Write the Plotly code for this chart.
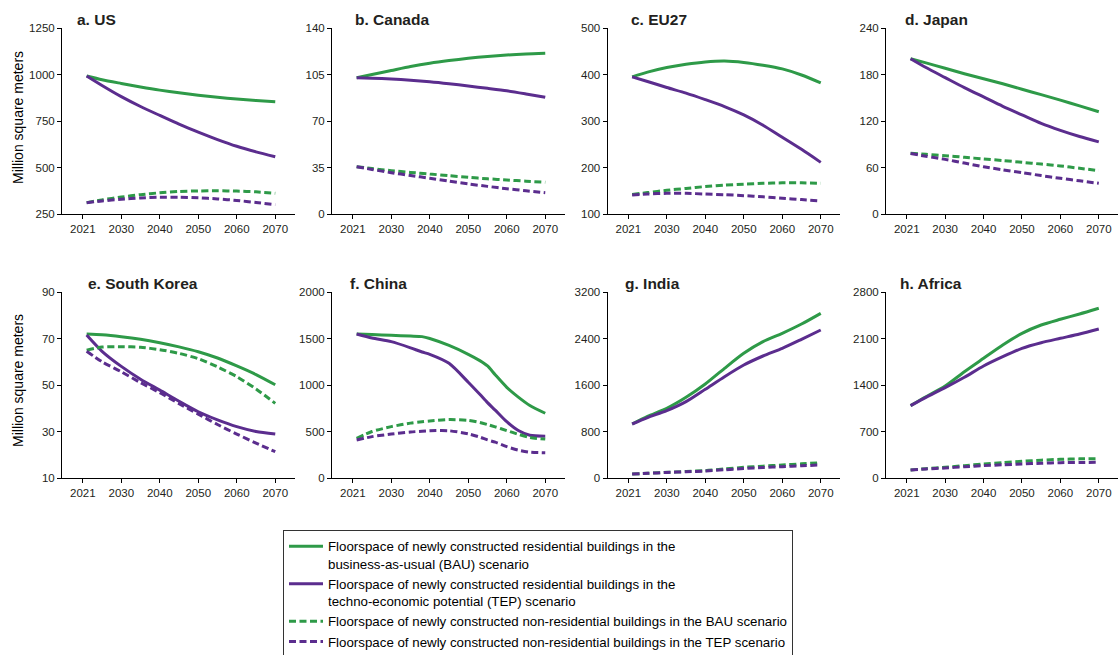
import plotly.graph_objects as go

# ---------------- data ----------------
years = [2021, 2025, 2030, 2035, 2040, 2045, 2050, 2055, 2060, 2065, 2070]

us_bau_res = [992, 972, 952, 933, 916, 902, 889, 878, 868, 860, 854]
us_tep_res = [992, 941, 881, 828, 780, 733, 690, 650, 614, 584, 558]
us_bau_non = [311, 326, 341, 354, 364, 371, 374, 375, 373, 369, 362]
us_tep_non = [311, 320, 329, 336, 340, 340, 337, 331, 323, 312, 300]

ca_bau_res = [102.5, 105, 108, 111, 113.5, 115.5, 117.2, 118.6, 119.7, 120.5, 121]
ca_tep_res = [102.5, 102.2, 101.6, 100.7, 99.6, 98.1, 96.3, 94.6, 92.8, 90.4, 87.8]
ca_bau_non = [35.6, 34.2, 32.6, 31.3, 30.1, 28.8, 27.6, 26.5, 25.6, 24.7, 23.9]
ca_tep_non = [35.6, 33.5, 31.1, 29.0, 26.9, 24.7, 22.6, 20.8, 19.0, 17.5, 16.0]

eu_bau_res = [395, 405, 415, 422, 427, 429, 426, 420, 412, 399, 382]
eu_tep_res = [395, 385, 372, 360, 346, 331, 313, 291, 265, 239, 211]
eu_bau_non = [142, 146, 151, 155, 159, 162, 164, 166, 167, 167, 166]
eu_tep_non = [141, 143, 144.5, 144.5, 143, 141.5, 139.5, 137, 134, 131, 128]

jp_bau_res = [200.4, 195, 188, 181, 174.6, 168, 161, 154, 147, 139.5, 132]
jp_tep_res = [200.4, 189, 176, 163, 151, 139, 128, 117, 108, 100, 93]
jp_bau_non = [78.3, 77, 75.3, 73.2, 71, 69, 66.7, 64.4, 62, 59, 56]
jp_tep_non = [78, 74.5, 70.5, 65.7, 61, 57, 53.3, 49.6, 46, 42.8, 39.6]

kr_bau_res = [71.9, 71.6, 70.8, 69.7, 68.2, 66.4, 64.3, 61.6, 58.2, 54.5, 50.1]
kr_tep_res = [71.5, 64.5, 58, 52.5, 47.8, 43, 38.5, 35, 32.1, 30, 28.9]
kr_bau_non = [65, 66.3, 66.5, 66.2, 65.2, 63.6, 61.3, 57.8, 53.6, 48.3, 42.1]
kr_tep_non = [64.5, 60, 55.7, 51, 46.7, 42, 37.5, 33, 28.9, 25, 21.3]

cn_years = [2021, 2025, 2030, 2035, 2038, 2040, 2045, 2050, 2053, 2055, 2057, 2060, 2063, 2066, 2070]
cn_bau_res = [1548, 1542, 1534, 1526, 1520, 1500, 1425, 1330, 1262, 1205, 1110, 975, 870, 780, 696]
cn_tep_res = [1548, 1505, 1466, 1400, 1355, 1330, 1233, 1030, 900, 810, 730, 605, 510, 460, 450]
cn_bau_non = [427, 500, 552, 590, 605, 613, 628, 620, 597, 575, 550, 510, 470, 435, 418]
cn_tep_non = [409, 445, 473, 495, 503, 508, 508, 475, 440, 410, 385, 337, 300, 278, 272]

in_bau_res = [929, 1060, 1199, 1388, 1617, 1887, 2145, 2345, 2489, 2649, 2833]
in_tep_res = [929, 1040, 1158, 1313, 1526, 1743, 1944, 2099, 2231, 2386, 2546]
in_bau_non = [69, 80, 98, 112, 126, 155, 184, 204, 224, 244, 264]
in_tep_non = [69, 80, 95, 108, 120, 142, 163, 180, 195, 210, 225]

af_bau_res = [1089, 1224, 1385, 1600, 1802, 2002, 2178, 2303, 2389, 2469, 2555]
af_tep_res = [1089, 1214, 1360, 1516, 1686, 1826, 1952, 2037, 2103, 2168, 2243]
af_bau_non = [120, 140, 161, 186, 211, 232, 251, 268, 281, 288, 291]
af_tep_non = [120, 136, 151, 169, 186, 199, 211, 222, 231, 234, 236]

panel_titles = ["a. US", "b. Canada", "c. EU27", "d. Japan",
                "e. South Korea", "f. China", "g. India", "h. Africa"]
y_ranges = [(250, 1250, 250), (0, 140, 35), (100, 500, 100), (0, 240, 60),
            (10, 90, 20), (0, 2000, 500), (0, 3200, 800), (0, 2800, 700)]
x_tickvals = [2020, 2030, 2040, 2050, 2060, 2070]
x_ticktext = ["2021", "2030", "2040", "2050", "2060", "2070"]
legend_names = [
    "Floorspace of newly constructed residential buildings in the<br>business-as-usual (BAU) scenario",
    "Floorspace of newly constructed residential buildings in the<br>techno-economic potential (TEP) scenario",
    "Floorspace of newly constructed non-residential buildings in the BAU scenario",
    "Floorspace of newly constructed non-residential buildings in the TEP scenario",
]
y_title = "Million square meters"

panels = [
    (years, us_bau_res, us_tep_res, us_bau_non, us_tep_non),
    (years, ca_bau_res, ca_tep_res, ca_bau_non, ca_tep_non),
    (years, eu_bau_res, eu_tep_res, eu_bau_non, eu_tep_non),
    (years, jp_bau_res, jp_tep_res, jp_bau_non, jp_tep_non),
    (years, kr_bau_res, kr_tep_res, kr_bau_non, kr_tep_non),
    (cn_years, cn_bau_res, cn_tep_res, cn_bau_non, cn_tep_non),
    (years, in_bau_res, in_tep_res, in_bau_non, in_tep_non),
    (years, af_bau_res, af_tep_res, af_bau_non, af_tep_non),
]

# ---------------- styling / layout ----------------
W, H = 1118, 655
GREEN = "#2e9a48"
PURPLE = "#5b2d8e"
TXT = "#231f20"
FONT = "Liberation Sans, Arial, sans-serif"
DASH = "7px,3.5px"

col_left = [62, 332, 607.5, 886]
panel_w = 232.5
row_px = [(28, 214), (292, 478)]
title_pos = [(75, 19.5), (353, 19.5), (629, 19.5), (903, 19.5),
             (86, 283), (348, 283), (623, 283), (898, 283)]

styles = [
    (GREEN, "solid"), (PURPLE, "solid"), (GREEN, DASH), (PURPLE, DASH)
]

fig = go.Figure()
layout = dict(
    width=W, height=H,
    margin=dict(l=0, r=0, t=0, b=0, autoexpand=False),
    paper_bgcolor="white", plot_bgcolor="white",
    font=dict(family=FONT, color=TXT),
    showlegend=True,
)

annotations = []
for i, (xs, *series) in enumerate(panels):
    r, c = divmod(i, 4)
    ax = "" if i == 0 else str(i + 1)
    for k, ys in enumerate(series):
        color, dash = styles[k]
        fig.add_trace(go.Scatter(
            x=xs, y=ys, mode="lines",
            line=dict(color=color, width=3, dash=dash, shape="spline", smoothing=0.7),
            name=legend_names[k], showlegend=(i == 0),
            xaxis="x" + ax, yaxis="y" + ax,
        ))
    x0 = col_left[c] / W
    x1 = min(1.0, (col_left[c] + panel_w) / W)
    ytop, ybot = row_px[r]
    y0 = 1 - ybot / H
    y1 = 1 - ytop / H
    lo, hi, dt = y_ranges[i]
    layout["xaxis" + ax] = dict(
        domain=[x0, x1], anchor="y" + ax, range=[2014.6, 2075.0],
        tickvals=x_tickvals, ticktext=x_ticktext,
        showline=True, linecolor="black", linewidth=1,
        ticks="outside", ticklen=4, tickcolor="black", tickwidth=1,
        showgrid=False, zeroline=False,
        tickfont=dict(size=11.5, color=TXT, family=FONT),
    )
    layout["yaxis" + ax] = dict(
        domain=[y0, y1], anchor="x" + ax, range=[lo, hi], dtick=dt, tick0=lo,
        showline=True, linecolor="black", linewidth=1,
        ticks="outside", ticklen=4, tickcolor="black", tickwidth=1,
        showgrid=False, zeroline=False,
        tickfont=dict(size=11.5, color=TXT, family=FONT),
    )
    tx, ty = title_pos[i]
    annotations.append(dict(
        text="<b>%s</b>" % panel_titles[i], x=tx / W, y=1 - ty / H,
        xref="paper", yref="paper", xanchor="left", yanchor="middle",
        showarrow=False, font=dict(size=15.5, color=TXT, family=FONT),
    ))

for yc in (118, 381):
    annotations.append(dict(
        text=y_title, x=18 / W, y=1 - yc / H, xref="paper", yref="paper",
        xanchor="center", yanchor="middle", textangle=-90, showarrow=False,
        font=dict(size=14, color="black", family=FONT),
    ))

layout["annotations"] = annotations
layout["legend"] = dict(
    x=283 / W, y=1 - 530 / H, xanchor="left", yanchor="top",
    bordercolor="#333333", borderwidth=1, bgcolor="white",
    font=dict(size=13.3, color="black", family=FONT),
    valign="top", itemwidth=34, tracegroupgap=0,
)
fig.update_layout(**layout)

fig.write_html(
    "out.html",
    config={"displayModeBar": False},
    post_script="document.body.style.margin='0';document.body.style.overflow='hidden';",
)
